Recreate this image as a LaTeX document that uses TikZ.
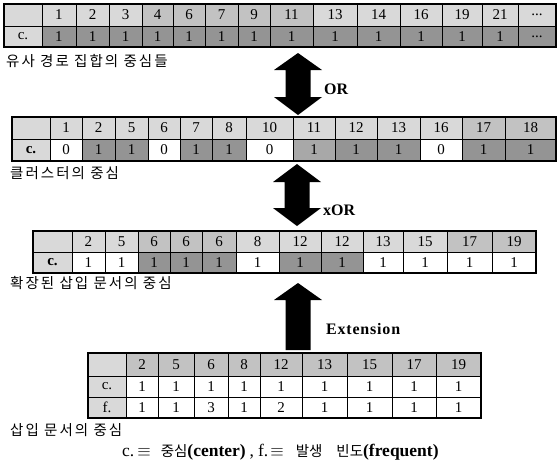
\documentclass[tikz,border=0pt]{standalone}
\usepackage{fontspec}
\setmainfont{Liberation Serif}
\newfontfamily\kr[LetterSpace=14]{Noto Sans CJK KR}
\newfontfamily\krn{Noto Sans CJK KR}
\definecolor{lite}{gray}{0.85}
\definecolor{midg}{gray}{0.76}
\definecolor{dark}{gray}{0.58}
\definecolor{dark2}{gray}{0.66}
\newcommand\tdots{...}
\tikzset{
  cellbox/.style={draw=black, line width=0.8pt, inner sep=0pt, outer sep=0pt,
    font=\fontsize{15}{15}\selectfont},
  outerbox/.style={draw=black, line width=1.3pt},
  tlabel/.style={anchor=west, inner sep=0pt, font=\fontsize{14.5}{14.5}\selectfont\kr},
  oplabel/.style={anchor=west, inner sep=0pt, font=\fontsize{16}{16}\selectfont\bfseries},
  blockarrow/.style={fill=black, draw=none}
}
\newcommand\tcell[7]{%
  \node[cellbox, fill=#6, minimum width={#3-#2}, minimum height={#5-#4}]
    (#1) at ({(#2+#3)/2},{(#4+#5)/2}) {#7};}
\newcommand\trow[4]{%
  \foreach \xa/\xb/\fc/\tx [count=\i] in {#4} {\tcell{#1\i}{\xa}{\xb}{#2}{#3}{\fc}{\tx}}}
\begin{document}
\begin{tikzpicture}[x=1pt,y=-1pt]
\useasboundingbox (0,0) rectangle (558,467);
\fill[white] (0,0) rectangle (558,467);

% ---------- Table 1 ----------
\trow{ah}{4}{26}{4/42/lite/{},42/76/lite/1,76/109/lite/2,109/142/lite/3,142/173/midg/4,173/205/midg/6,205/238/midg/7,238/270/midg/9,270/313/midg/11,313/357/lite/13,357/400/lite/14,400/442/lite/16,442/482/lite/19,482/518/lite/21,518/556/lite/\tdots}
\trow{ac}{26}{47}{4/42/lite/c.,42/76/dark/1,76/109/dark/1,109/142/dark/1,142/173/dark/1,173/205/dark/1,205/238/dark/1,238/270/dark/1,270/313/dark/1,313/357/dark/1,357/400/dark/1,400/442/dark/1,442/482/dark/1,482/518/dark/1,518/556/dark/\tdots}
\draw[outerbox] (ah1.north west) rectangle (ac15.south east);
\node[tlabel] (l1) at (6,61) {유사 경로 집합의 중심들};

% OR arrow
\fill[blockarrow] (298,53) -- (322,70) -- (310.5,70) -- (310.5,97) -- (322,97) -- (298,115)
  -- (274,97) -- (285.5,97) -- (285.5,70) -- (274,70) -- cycle;
\node[oplabel] (op1) at (324,89) {OR};

% ---------- Table 2 ----------
\trow{bh}{117}{139}{12/50/lite/{},50/82/lite/1,82/115/lite/2,115/148/lite/5,148/180/lite/6,180/212/lite/7,212/246/lite/8,246/293/lite/10,293/335/lite/11,335/377/lite/12,377/420/lite/13,420/462/lite/16,462/505/midg/17,505/556/midg/18}
\trow{bc}{139}{161}{12/50/lite/\textbf{c.},50/82/white/0,82/115/dark/1,115/148/dark/1,148/180/white/0,180/212/dark/1,212/246/dark/1,246/293/white/0,293/335/dark2/1,335/377/dark/1,377/420/dark/1,420/462/white/0,462/505/dark/1,505/556/dark/1}
\draw[outerbox] (bh1.north west) rectangle (bc14.south east);
\node[tlabel] (l2) at (10,173) {클러스터의 중심};

% xOR arrow
\fill[blockarrow] (297,164) -- (321,182) -- (309.5,182) -- (309.5,208) -- (321,208) -- (297,226)
  -- (273,208) -- (284.5,208) -- (284.5,182) -- (273,182) -- cycle;
\node[oplabel] (op2) at (323,210) {xOR};

% ---------- Table 3 ----------
\trow{ch}{231}{252}{33/72/lite/{},72/105/lite/2,105/138/lite/5,138/170/midg/6,170/202/midg/6,202/236/midg/6,236/279/lite/8,279/321/lite/12,321/363/lite/12,363/403/lite/13,403/447/lite/15,447/492/midg/17,492/536/midg/19}
\trow{cc}{252}{273}{33/72/lite/\textbf{c.},72/105/white/1,105/138/white/1,138/170/dark/1,170/202/dark/1,202/236/dark/1,236/279/white/1,279/321/dark/1,321/363/dark/1,363/403/white/1,403/447/white/1,447/492/white/1,492/536/white/1}
\draw[outerbox] (ch1.north west) rectangle (cc13.south east);
\node[tlabel] (l3) at (10,283) {확장된 삽입 문서의 중심};

% Extension arrow
\fill[blockarrow] (298,283) -- (322,300) -- (310.5,300) -- (310.5,350) -- (285.5,350)
  -- (285.5,300) -- (274,300) -- cycle;
\node[oplabel, font=\fontsize{16}{16}\selectfont\bfseries\addfontfeatures{LetterSpace=5}] (op3) at (326,329) {Extension};

% ---------- Table 4 ----------
\trow{dh}{353}{376}{88/126/lite/{},126/158/midg/2,158/194/midg/5,194/228/midg/6,228/260/midg/8,260/302/midg/12,302/347/midg/13,347/392/midg/15,392/436/midg/17,436/481/midg/19}
\trow{dc}{376}{397}{88/126/lite/c.,126/158/white/1,158/194/white/1,194/228/white/1,228/260/white/1,260/302/white/1,302/347/white/1,347/392/white/1,392/436/white/1,436/481/white/1}
\trow{df}{397}{418}{88/126/lite/f.,126/158/white/1,158/194/white/1,194/228/white/3,228/260/white/1,260/302/white/2,302/347/white/1,347/392/white/1,392/436/white/1,436/481/white/1}
\draw[outerbox] (dh1.north west) rectangle (df10.south east);
\node[tlabel] (l4) at (10,430) {삽입 문서의 중심};

% legend
\node[anchor=west, inner sep=0pt, font=\fontsize{17.5}{17.5}\selectfont] (leg) at (122,452)
  {c.\hspace{3pt}$\equiv$\hspace{10pt}{\krn\fontsize{14.5}{14.5}\selectfont 중심}\textbf{(center)}\hspace{4pt},\hspace{4pt}f.\hspace{2pt}$\equiv$\hspace{12pt}{\krn\fontsize{14.5}{14.5}\selectfont 발생\hspace{14pt}빈도}\textbf{(frequent)}};
\end{tikzpicture}
\end{document}
